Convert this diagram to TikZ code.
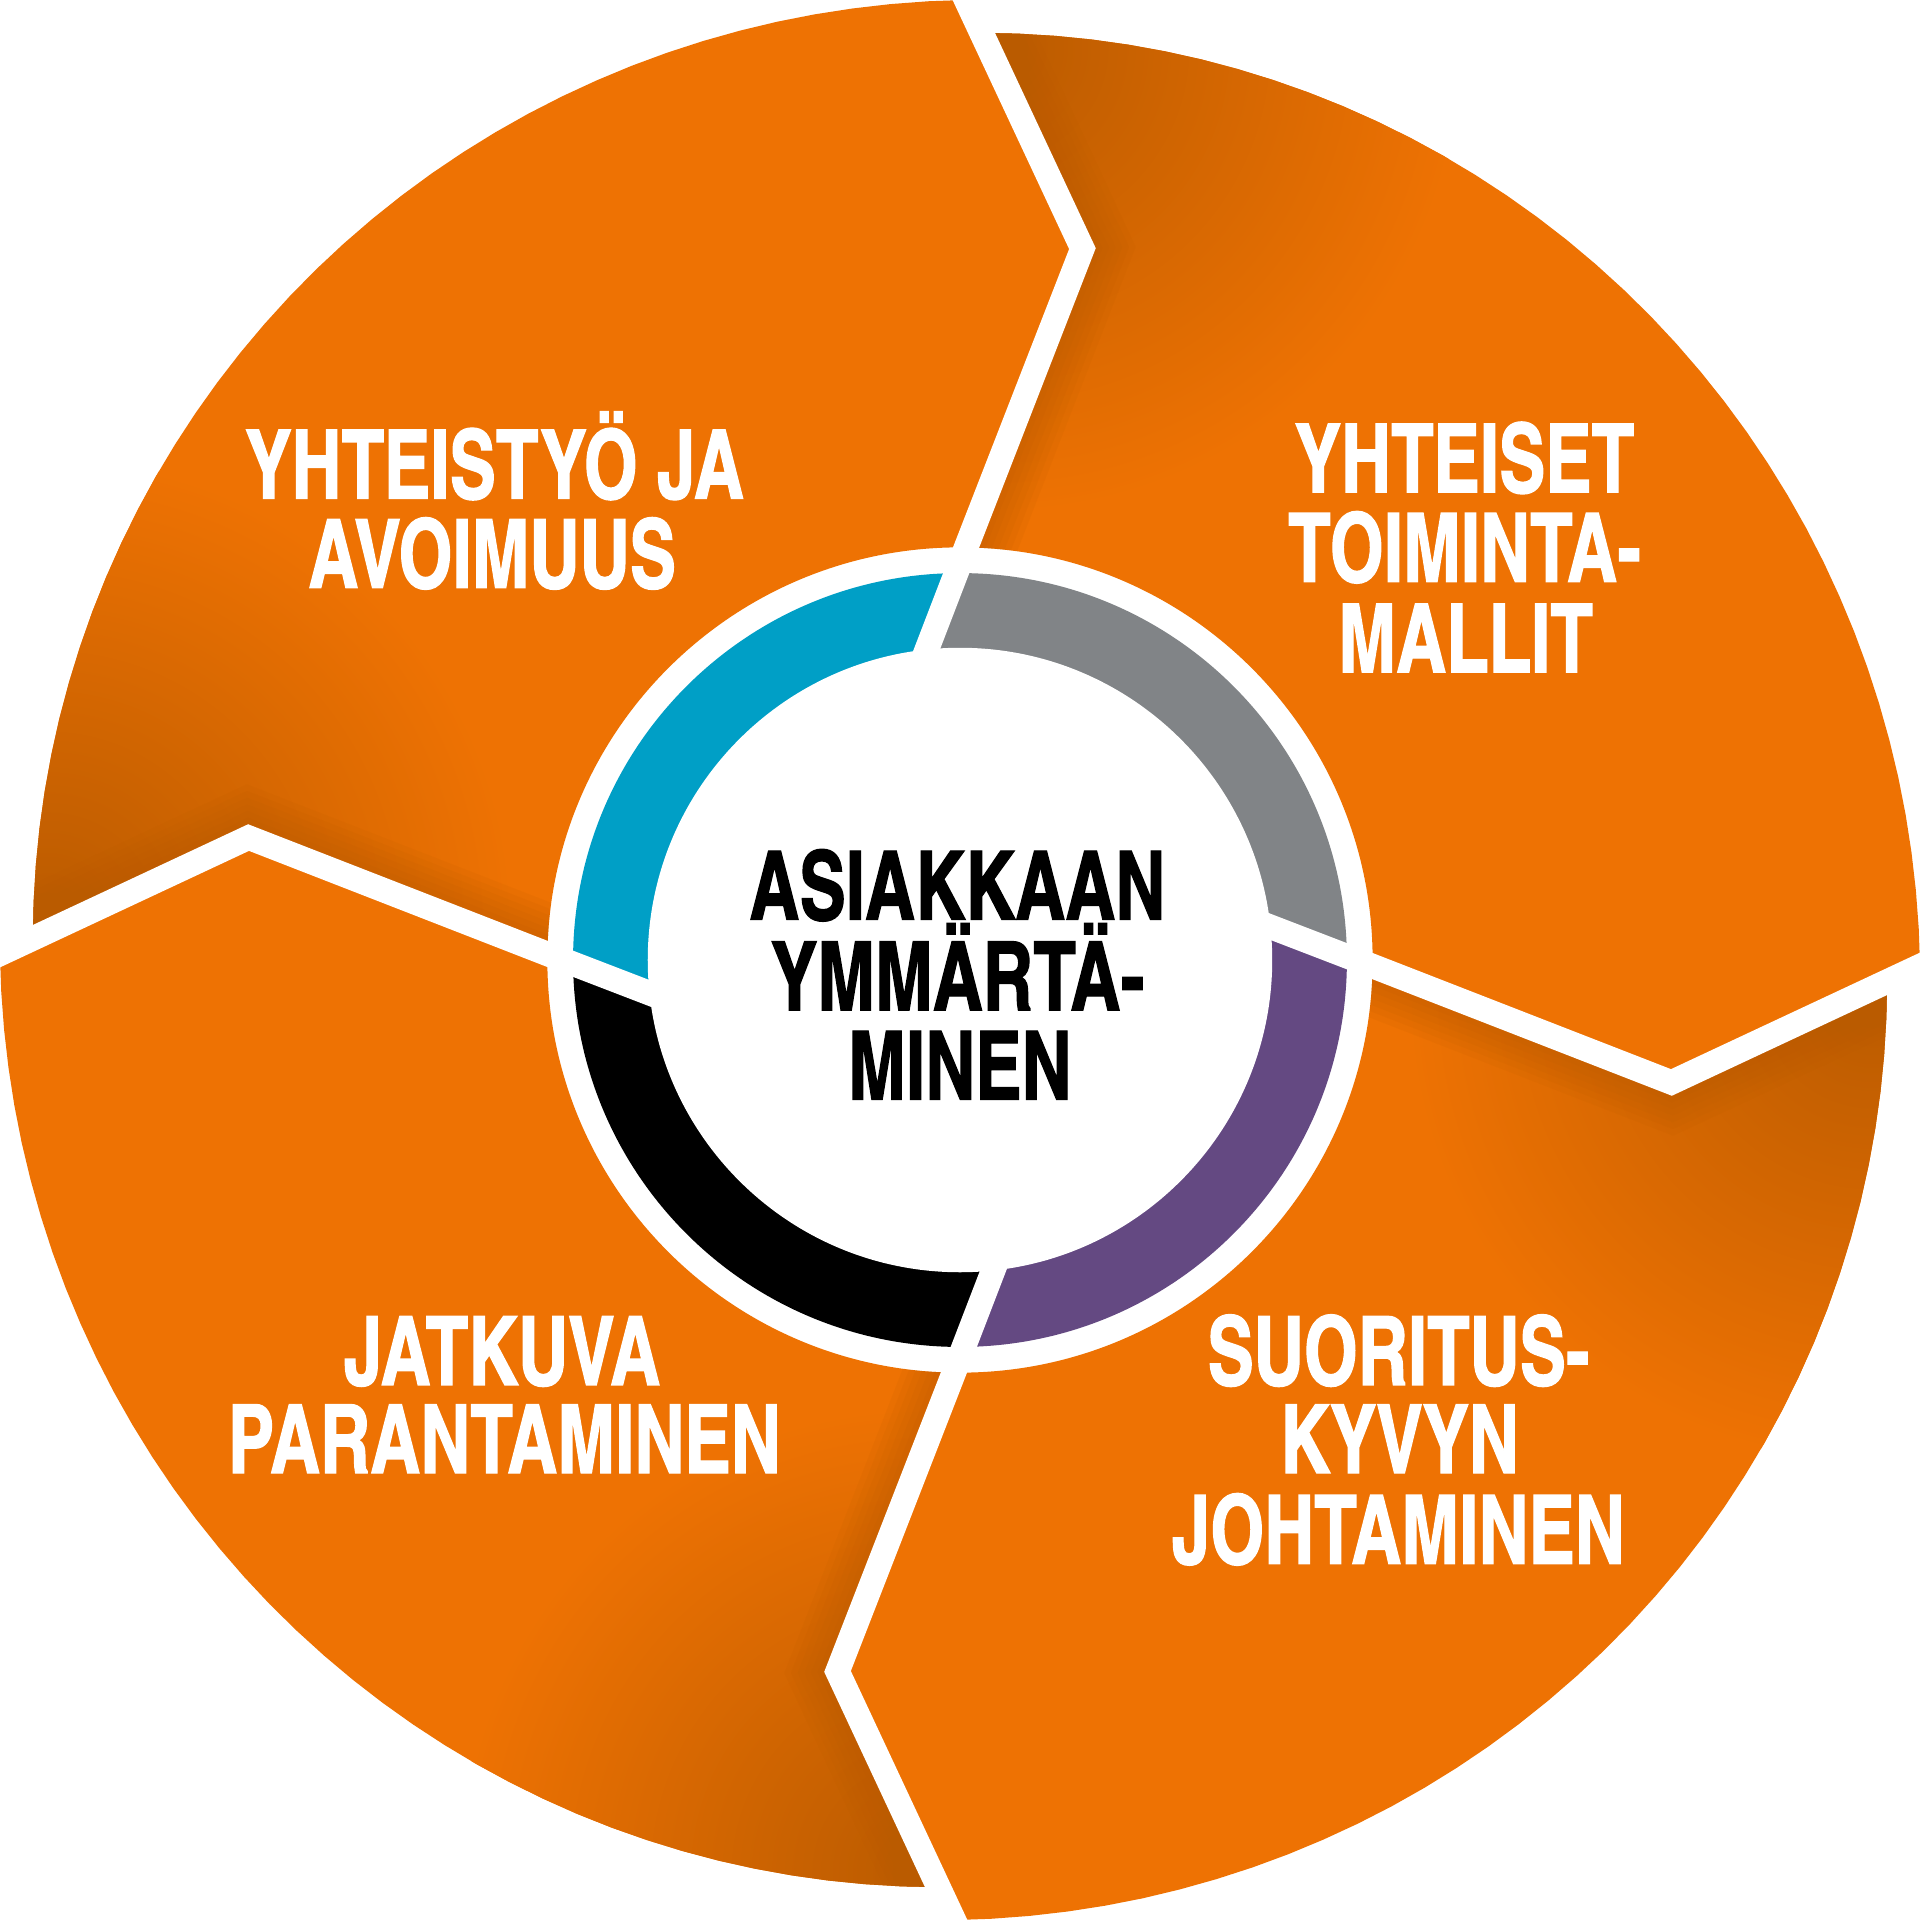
\documentclass[tikz,border=0pt]{standalone}
\usepackage{fontspec}
\newfontfamily\cnfont{texgyreheroscn-bold.otf}[FakeStretch=0.885, FakeBold=1.3]

\definecolor{kehaoranssi}{RGB}{238,114,3}
\definecolor{varjo}{RGB}{186,91,0}
\definecolor{syaani}{RGB}{0,159,198}
\definecolor{harmaa}{RGB}{129,132,135}
\definecolor{violetti}{RGB}{100,73,130}

\tikzset{
	valkoraja/.style={white, line width=0.2cm, line join=miter},
	otsikko/.style={anchor=base, inner sep=0pt, text=white,
		font=\cnfont\fontsize{22.2}{26}\selectfont},
}

% one orange piece of the outer ring, between the separators at 0 and 90 degrees
\newcommand{\kehapala}{(337,-5) -- (581,-100) -- (784,-5)
	-- plot[domain=-0.4:88.7, samples=40] (\x:{784-0.3*\x})
	-- (100,581) -- (5,337) arc[start angle=89.15, end angle=-0.85, radius=337] -- cycle}

\begin{document}
\begin{tikzpicture}[x=0.01cm, y=0.01cm]
	\useasboundingbox (-784,-784) rectangle (784,784);
	\fill[white] (-784,-784) rectangle (784,784);

	% outer ring
	\foreach \k in {0,1,2,3} {
		\begin{scope}[rotate=\k*90]
			\fill[kehaoranssi] \kehapala;
			\begin{scope}
				\clip \kehapala;
				\shade[inner color=varjo, outer color=kehaoranssi] (30,745) circle (380);
				\foreach \w in {30,40,...,80}
					\draw[varjo, opacity=0.1, line width=\w*0.01cm] (-33,239) -- (5,337) -- (100,581) -- (5,784) -- (-14,825);
			\end{scope}
		\end{scope}
	}

	% inner coloured ring
	\foreach \k/\vari in {0/harmaa,1/syaani,2/black,3/violetti} {
		\begin{scope}[rotate=\k*90]
			\clip (0,0) -- (239,33) -- (337,-5) -- (400,400) -- (5,337) -- (-33,239) -- cycle;
			\fill[\vari] (0,0) circle (316);
		\end{scope}
	}

	% separators
	\foreach \k in {0,1,2,3}
		\draw[valkoraja, rotate=\k*90] (-40,220) -- (5,337) -- (100,581) -- (5,784) -- (-14,825);

	\fill[white] (0,0) circle (255);

	\node[otsikko] at (-380,377) (yht1) {YHTEISTYÖ JA};
	\node[otsikko] at (-382,304) (yht2) {AVOIMUUS};

	\node[otsikko] at (412,382) (toi1) {YHTEISET};
	\node[otsikko] at (412,309) (toi2) {TOIMINTA-};
	\node[otsikko] at (413,235) (toi3) {MALLIT};

	\node[otsikko, text=black] at (-2,33) (asi1) {ASIAKKAAN};
	\node[otsikko, text=black] at (-2,-41) (asi2) {YMMÄRTÄ-};
	\node[otsikko, text=black] at (0,-114) (asi3) {MINEN};

	\node[otsikko] at (-374,-347) (jat1) {JATKUVA};
	\node[otsikko] at (-372,-419) (jat2) {PARANTAMINEN};

	\node[otsikko] at (358,-347) (suo1) {SUORITUS-};
	\node[otsikko] at (359,-419) (suo2) {KYVYN};
	\node[otsikko] at (358,-493) (suo3) {JOHTAMINEN};

\end{tikzpicture}
\end{document}
